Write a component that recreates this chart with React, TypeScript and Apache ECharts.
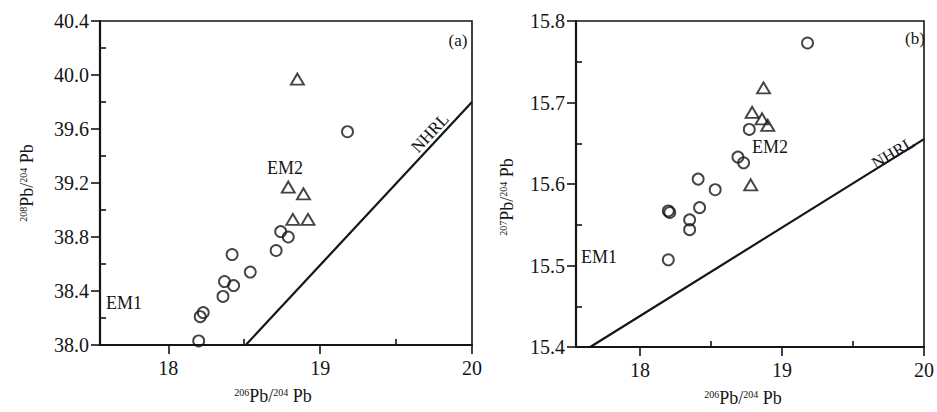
import React, { useEffect, useRef } from "react";
import * as echarts from "echarts";

// x-axis (206Pb/204Pb) tick values
const xMajorTicks = [18, 19, 20];
const xMinorTicks = [18.5, 19.5];
// y-axis minor ticks
const leftYMinor = [38.2, 38.6, 39.0, 39.4, 39.8, 40.2];
const rightYMinor = [15.45, 15.55, 15.65, 15.75];

// Panel (a): 206Pb/204Pb vs 208Pb/204Pb
const aCircles: number[][] = [
  [18.2, 38.03], [18.21, 38.21], [18.23, 38.24], [18.36, 38.36], [18.37, 38.47],
  [18.43, 38.44], [18.42, 38.67], [18.54, 38.54], [18.71, 38.7], [18.74, 38.84],
  [18.79, 38.8], [19.18, 39.58],
];
const aTriangles: number[][] = [
  [18.85, 39.97], [18.79, 39.17], [18.89, 39.12], [18.82, 38.93], [18.92, 38.93],
];
const aNHRL: number[][] = [[18.51, 38.0], [20, 39.8]];

// Panel (b): 206Pb/204Pb vs 207Pb/204Pb
const bCircles: number[][] = [
  [19.18, 15.773], [18.77, 15.667], [18.69, 15.633], [18.73, 15.626], [18.41, 15.606],
  [18.53, 15.593], [18.2, 15.567], [18.21, 15.565], [18.42, 15.571], [18.35, 15.556],
  [18.35, 15.544], [18.2, 15.507],
];
const bTriangles: number[][] = [
  [18.87, 15.718], [18.79, 15.688], [18.86, 15.68], [18.9, 15.672], [18.78, 15.599],
];
const bNHRL: number[][] = [[17.65, 15.4], [20, 15.655]];

const FONT = "'Liberation Serif', 'DejaVu Serif', serif";
const INK = "#151515";

function richName(padRight: number) {
  return {
    base: { fontFamily: FONT, fontSize: 18, color: INK },
    sup: { fontFamily: FONT, fontSize: 10, color: INK, verticalAlign: "top", padding: [0, 0, 8, 0] },
  };
}

function xAxes(grid: number, nameText: string, padRight: number) {
  return [
    {
      gridIndex: grid, type: "value", min: 17.55, max: 20, position: "bottom",
      axisLine: { show: true, lineStyle: { color: INK, width: 2.2 } },
      axisTick: { show: true, customValues: xMajorTicks, length: 9, lineStyle: { color: INK, width: 1.6 } },
      axisLabel: {
        customValues: xMajorTicks, margin: 13, fontFamily: FONT, fontSize: 20, color: INK,
        formatter: (v: number) => String(Math.round(v)),
      },
      splitLine: { show: false },
      name: nameText, nameLocation: "middle", nameGap: 42,
      nameTextStyle: { rich: richName(0), padding: [0, padRight, 0, 0] },
    },
    {
      gridIndex: grid, type: "value", min: 17.55, max: 20, position: "bottom",
      axisLine: { show: false },
      axisTick: { show: true, inside: true, customValues: xMinorTicks, length: 6, lineStyle: { color: INK, width: 1.6 } },
      axisLabel: { show: false },
      splitLine: { show: false },
    },
  ];
}

function yAxes(grid: number, min: number, max: number, interval: number, minor: number[], nameText: string, gap: number, padRight: number) {
  return [
    {
      gridIndex: grid, type: "value", min, max, interval, position: "left",
      axisLine: { show: true, lineStyle: { color: INK, width: 2.2 } },
      axisTick: { show: true, length: 9, lineStyle: { color: INK, width: 1.6 } },
      axisLabel: {
        margin: 11, fontFamily: FONT, fontSize: 20, color: INK,
        formatter: (v: number) => v.toFixed(1),
      },
      splitLine: { show: false },
      name: nameText, nameLocation: "middle", nameGap: gap, nameRotate: 90,
      nameTextStyle: { rich: richName(0), padding: [0, padRight, 0, 0] },
    },
    {
      gridIndex: grid, type: "value", min, max, position: "left",
      axisLine: { show: false },
      axisTick: { show: true, inside: true, customValues: minor, length: 6, lineStyle: { color: INK, width: 1.6 } },
      axisLabel: { show: false },
      splitLine: { show: false },
    },
  ];
}

function circleSeries(data: number[][], xi: number, yi: number) {
  return {
    type: "scatter", xAxisIndex: xi, yAxisIndex: yi, data, symbol: "circle", symbolSize: 11,
    itemStyle: { color: "rgba(255,255,255,0)", borderColor: INK, borderWidth: 1.9 },
  };
}
function triSeries(data: number[][], xi: number, yi: number) {
  return {
    type: "scatter", xAxisIndex: xi, yAxisIndex: yi, data, symbol: "triangle", symbolSize: [13, 11],
    itemStyle: { color: "rgba(255,255,255,0)", borderColor: INK, borderWidth: 1.9 },
  };
}
function lineSeries(data: number[][], xi: number, yi: number) {
  return {
    type: "line", xAxisIndex: xi, yAxisIndex: yi, data, showSymbol: false, symbol: "none",
    lineStyle: { color: INK, width: 2.2 }, clip: true,
  };
}

function txt(text: string, x: number, y: number, size: number, align = "center", rotationDeg = 0) {
  return {
    type: "text", x, y, rotation: (rotationDeg * Math.PI) / 180,
    style: {
      text, fill: INK, font: `${size}px ${FONT}`, fontFamily: FONT, fontSize: size,
      align, textAlign: align, verticalAlign: "middle", textVerticalAlign: "middle",
    },
  };
}

export default function App() {
  const ref = useRef<HTMLDivElement>(null);
  useEffect(() => {
    if (!ref.current) return;
    const chart = echarts.init(ref.current, null, { renderer: "svg" });
    const xName = "{sup|206}{base|Pb/}{sup|204}{base| Pb}";
    chart.setOption({
      animation: false,
      backgroundColor: "#ffffff",
      grid: [
        { left: 100, top: 21, width: 372, height: 324, show: true, borderColor: INK, borderWidth: 1.6, backgroundColor: "transparent" },
        { left: 576, top: 21, width: 356, height: 326, show: true, borderColor: INK, borderWidth: 1.6, backgroundColor: "transparent" },
      ],
      xAxis: [...xAxes(0, xName, 26), ...xAxes(1, xName, 14)],
      yAxis: [
        ...yAxes(0, 38.0, 40.4, 0.4, leftYMinor, "{sup|208}{base|Pb/}{sup|204}{base| Pb}", 64, 0),
        ...yAxes(1, 15.4, 15.8, 0.1, rightYMinor, "{sup|207}{base|Pb/}{sup|204}{base| Pb}", 60, 26),
      ],
      series: [
        lineSeries(aNHRL, 0, 0),
        circleSeries(aCircles, 0, 0),
        triSeries(aTriangles, 0, 0),
        lineSeries(bNHRL, 2, 2),
        circleSeries(bCircles, 2, 2),
        triSeries(bTriangles, 2, 2),
      ],
      graphic: [
        txt("(a)", 458, 40, 17),
        txt("(b)", 915, 38, 17),
        txt("EM1", 106, 303, 18, "left"),
        txt("EM2", 267, 168, 18, "left"),
        txt("NHRL", 430, 133, 17, "center", 47),
        txt("EM1", 581, 257, 18, "left"),
        txt("EM2", 752, 147, 18, "left"),
        txt("NHRL", 893, 153, 17, "center", 31),
      ],
    });
    return () => chart.dispose();
  }, []);
  return (
    <div
      ref={ref}
      style={{ position: "absolute", left: 0, top: 0, width: 937, height: 412, background: "#fff" }}
    />
  );
}
